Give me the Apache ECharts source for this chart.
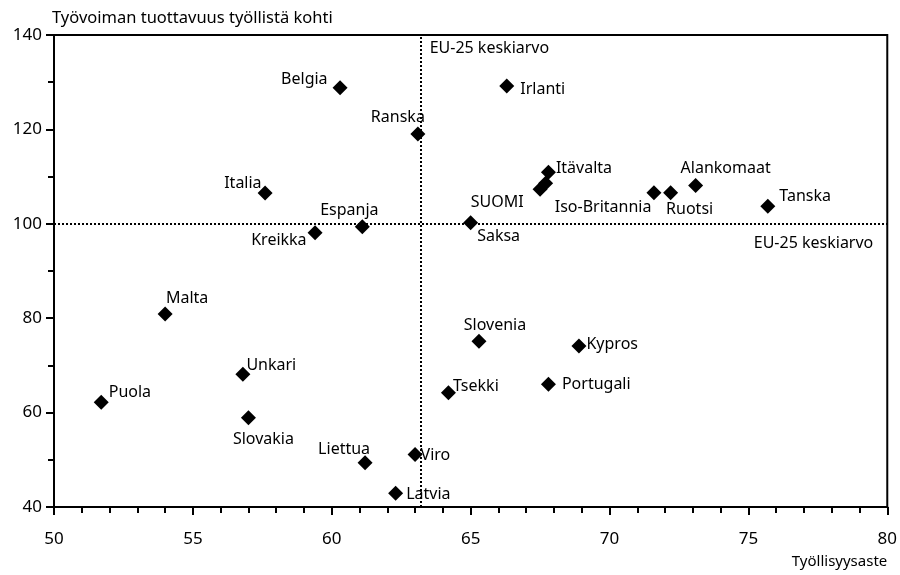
<!DOCTYPE html>
<html>
<head>
<meta charset="utf-8">
<script src="https://cdn.jsdelivr.net/npm/echarts@6/dist/echarts.min.js"></script>
<style>
html, body { margin: 0; padding: 0; background: #fff; }
#chart { width: 900px; height: 575px; }
</style>
</head>
<body>
<div id="chart"></div>
<script>
// maat, työllisyysaste (x) ja tuottavuus työllistä kohti (y)
var countries = ['Belgia', 'Ranska', 'Italia', 'Irlanti', 'Itävalta', 'SUOMI', '',
	'Iso-Britannia', 'Ruotsi', 'Alankomaat', 'Tanska', 'Espanja', 'Kreikka', 'Saksa',
	'Malta', 'Unkari', 'Puola', 'Slovakia', 'Liettua', 'Viro', 'Latvia',
	'Slovenia', 'Kypros', 'Portugali', 'Tsekki'];
var employment = [60.3, 63.1, 57.6, 66.3, 67.8, 67.5, 67.7,
	71.6, 72.2, 73.1, 75.7, 61.1, 59.4, 65.0,
	54.0, 56.8, 51.7, 57.0, 61.2, 63.0, 62.3,
	65.3, 68.9, 67.8, 64.2];
var productivity = [128.8, 119.0, 106.5, 129.2, 110.9, 107.3, 108.6,
	106.6, 106.6, 108.1, 103.7, 99.4, 98.1, 100.2,
	80.9, 68.1, 62.2, 58.9, 49.4, 51.1, 42.9,
	75.1, 74.1, 66.0, 64.2];
var euAvgX = 63.2;
var euAvgY = 100;
var avgLabel = 'EU-25 keskiarvo';

// nimien paikat pisteen ympärillä
var labelPlace = {
	'Belgia': ['left', [0, -8]],
	'Ranska': ['top', [-20, 4]],
	'Italia': ['left', [9, -10]],
	'Irlanti': ['right', [1, 3]],
	'Itävalta': ['right', [-5, -4]],
	'SUOMI': ['left', [-4, 13]],
	'Iso-Britannia': ['left', [10, 15]],
	'Ruotsi': ['bottom', [19, -4]],
	'Alankomaat': ['top', [30, 3]],
	'Tanska': ['right', [-1, -10]],
	'Espanja': ['top', [-13, 4]],
	'Kreikka': ['left', [4, 8]],
	'Saksa': ['right', [-6, 14]],
	'Malta': ['top', [22, 5]],
	'Unkari': ['right', [-9, -9]],
	'Puola': ['right', [-5, -10]],
	'Slovakia': ['bottom', [15, 1]],
	'Liettua': ['top', [-21, 7]],
	'Viro': ['right', [-7, 1]],
	'Latvia': ['right', [-2, 1]],
	'Slovenia': ['top', [16, 5]],
	'Kypros': ['right', [-5, -2]],
	'Portugali': ['right', [1, 0]],
	'Tsekki': ['right', [-8, -6]]
};

var font = 'Noto Sans';
var points = [];
for (var i = 0; i < countries.length; i++) {
	var p = labelPlace[countries[i]] || ['right', [0, 0]];
	points.push({
		name: countries[i],
		value: [employment[i], productivity[i]],
		label: { position: p[0], offset: p[1] }
	});
}

var myChart = echarts.init(document.getElementById('chart'));
var option = {
	animation: false,
	textStyle: { fontFamily: font, color: '#000' },
	grid: {
		left: 54,
		right: 12,
		top: 35,
		bottom: 68,
		show: true,
		borderColor: '#000',
		borderWidth: 2
	},
	xAxis: {
		type: 'value',
		min: 50,
		max: 80,
		interval: 5,
		name: 'Työllisyysaste',
		nameLocation: 'end',
		nameGap: 0,
		nameTextStyle: {
			fontSize: 15, color: '#000', fontFamily: font,
			align: 'right', verticalAlign: 'top', padding: [47, 0, 0, 0]
		},
		axisLine: { lineStyle: { color: '#000', width: 2 } },
		axisTick: { length: 8, lineStyle: { color: '#000', width: 2 } },
		minorTick: { show: true, splitNumber: 5, length: 6, lineStyle: { color: '#000', width: 2 } },
		axisLabel: { margin: 24, fontSize: 17, color: '#000', fontFamily: font },
		splitLine: { show: false }
	},
	yAxis: {
		type: 'value',
		min: 40,
		max: 140,
		interval: 20,
		name: 'Työvoiman tuottavuus työllistä kohti',
		nameLocation: 'end',
		nameGap: 8,
		nameTextStyle: {
			fontSize: 16.5, color: '#000', fontFamily: font,
			align: 'left', padding: [0, 0, 0, -2]
		},
		axisLine: { lineStyle: { color: '#000', width: 2 } },
		axisTick: { length: 8, lineStyle: { color: '#000', width: 2 } },
		minorTick: { show: true, splitNumber: 2, length: 6, lineStyle: { color: '#000', width: 2 } },
		axisLabel: { margin: 12, fontSize: 17, color: '#000', fontFamily: font },
		splitLine: { show: false }
	},
	series: [
		{
			name: 'maat',
			type: 'scatter',
			symbol: 'diamond',
			symbolSize: 15,
			itemStyle: { color: '#000', opacity: 1 },
			label: {
				show: true,
				formatter: '{b}',
				fontSize: 16,
				color: '#000',
				fontFamily: font
			},
			data: points,
			markLine: {
				silent: true,
				symbol: 'none',
				label: { show: false },
				lineStyle: { color: '#000', width: 2, type: [2, 2], opacity: 1 },
				data: [
					{ xAxis: euAvgX },
					{ yAxis: euAvgY }
				]
			},
			markPoint: {
				silent: true,
				symbol: 'circle',
				symbolSize: 0,
				label: { show: true, fontSize: 16, color: '#000', fontFamily: font },
				data: [
					{ coord: [euAvgX, 140], value: avgLabel,
						label: { position: 'right', offset: [4, 13], formatter: avgLabel } },
					{ coord: [80, euAvgY], value: avgLabel,
						label: { position: 'left', offset: [-9, 20], formatter: avgLabel } }
				]
			},
			z: 3
		}
	]
};
myChart.setOption(option);
</script>
</body>
</html>
